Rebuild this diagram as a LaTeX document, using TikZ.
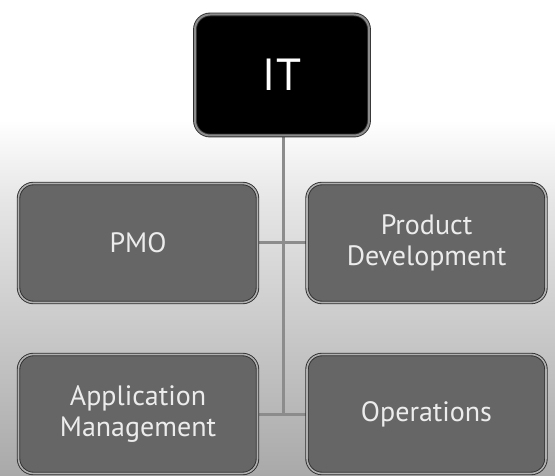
\documentclass[tikz,border=0pt]{standalone}
\usepackage{fontspec}
\setmainfont{PT Sans}
\pgfdeclarelayer{bgl}
\pgfdeclarelayer{edges}
\pgfsetlayers{bgl,edges,main}
\definecolor{boxfill}{HTML}{666666}
\definecolor{boxline}{HTML}{2E2E2E}
\definecolor{hilite}{HTML}{B0B0B0}
\definecolor{conn}{HTML}{8C8C8C}
\definecolor{txt}{HTML}{ECECEC}
\definecolor{bgbottom}{HTML}{A9A9A9}
\definecolor{bgmid}{HTML}{E6E6E6}
\tikzset{
  unitbox/.style={rounded corners=15pt, fill=boxfill, draw=boxline, line width=0.9pt,
    double=hilite, double distance=1.6pt, minimum width=239pt, minimum height=119pt,
    text=txt, font=\fontsize{28}{31}\selectfont, align=center, inner sep=0pt},
  topbox/.style={rounded corners=15pt, fill=black, draw=boxline, line width=0.9pt,
    double=conn, double distance=2pt, minimum width=174pt, minimum height=121pt,
    text=white, font=\fontsize{45}{50}\selectfont, inner sep=0pt},
  connector/.style={draw=conn, line width=3pt}
}
\begin{document}
\begin{tikzpicture}[x=1pt,y=-1pt]
\useasboundingbox (0,0) rectangle (555,476);
\begin{pgfonlayer}{bgl}
  \fill[white] (0,0) rectangle (555,120);
  \shade[top color=white, bottom color=bgmid] (0,119.5) rectangle (555,200);
  \shade[top color=bgmid, bottom color=bgbottom] (0,199.5) rectangle (555,476);
\end{pgfonlayer}
\node[topbox] (it) at (282,75) {IT};
\node[unitbox] (pmo) at (138,243) {PMO};
\node[unitbox] (pd) at (426.5,243) {Product\\Development};
\node[unitbox] (am) at (138,414) {Application\\Management};
\node[unitbox] (ops) at (426.5,414) {Operations};
\coordinate (jb) at (283,414);
\begin{pgfonlayer}{edges}
  \draw[connector] (it.south -| jb) -- (jb);
  \draw[connector] (pmo) -- (pd);
  \draw[connector] (am) -- (ops);
\end{pgfonlayer}
\end{tikzpicture}
\end{document}
